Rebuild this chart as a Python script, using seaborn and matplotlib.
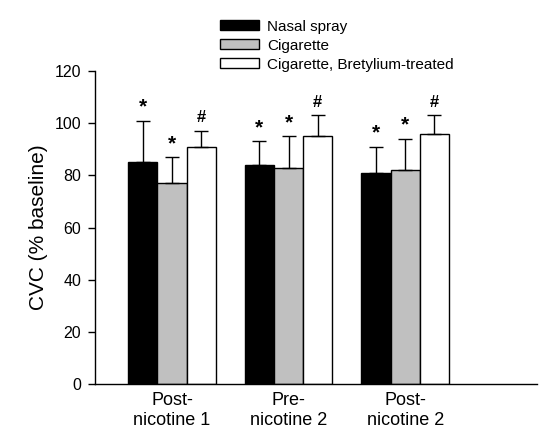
"""Bar chart of CVC (% baseline) by condition and treatment."""

import matplotlib
matplotlib.use("Agg")

import matplotlib.pyplot as plt
import pandas as pd
import seaborn as sns

periods = ["Post-\nnicotine 1", "Pre-\nnicotine 2", "Post-\nnicotine 2"]
treatments = ["Nasal spray", "Cigarette", "Cigarette, Bretylium-treated"]
nasal_spray = [85, 84, 81]
cigarette = [77, 83, 82]
bretylium = [91, 95, 96]
nasal_spray_err = [16, 9, 10]
cigarette_err = [10, 12, 12]
bretylium_err = [6, 8, 7]
marks = ["*", "*", "#"]

colors = ["black", "#c0c0c0", "white"]

rows = []
for name, values in zip(treatments, [nasal_spray, cigarette, bretylium]):
    for period, value in zip(periods, values):
        rows.append({"period": period, "treatment": name, "cvc": value})
df = pd.DataFrame(rows)
errors = [nasal_spray_err, cigarette_err, bretylium_err]

sns.set_style("ticks", {"axes.edgecolor": "black", "xtick.color": "black", "ytick.color": "black",
                        "text.color": "black", "axes.labelcolor": "black"})
plt.rcParams["font.family"] = ["Liberation Sans", "DejaVu Sans"]

fig = plt.figure(figsize=(5.39, 4.37), dpi=100)
ax = fig.add_axes([95 / 539, 53 / 437, 442 / 539, 313 / 437])

sns.barplot(data=df, x="period", y="cvc", hue="treatment", order=periods, hue_order=treatments,
            palette=colors, width=0.75, edgecolor="black", linewidth=1, errorbar=None,
            legend=True, ax=ax)

for container, errs, mark in zip(ax.containers, errors, marks):
    for patch, err in zip(container.patches, errs):
        x = patch.get_x() + patch.get_width() / 2
        top = patch.get_height()
        ax.errorbar(x, top, yerr=[[0], [err]], fmt="none", ecolor="black",
                    elinewidth=1, capsize=5, capthick=1)
        ax.annotate(mark, (x, top + err), xytext=(0, 3 if mark == "*" else 4),
                    textcoords="offset points", ha="center", va="bottom",
                    fontsize=15 if mark == "*" else 12, fontweight="bold")

ax.set_xlim(-0.66, 3.13)
ax.set_ylim(0, 120)
ax.set_yticks(range(0, 121, 20))
ax.set_ylabel("CVC (% baseline)", fontsize=15, labelpad=5)
ax.set_xlabel("")
ax.tick_params(axis="y", labelsize=11.5, direction="out", length=5, width=1, pad=5)
ax.tick_params(axis="x", labelsize=13, length=0, pad=6)
for spine in ["left", "bottom"]:
    ax.spines[spine].set_linewidth(1)
sns.despine(ax=ax)

handles, labels = ax.get_legend_handles_labels()
ax.get_legend().remove()
fig.legend(handles, labels, loc="upper left", bbox_to_anchor=(212 / 539, 1 - 12 / 437),
           frameon=False, fontsize=11, borderpad=0, handlelength=2.6, handleheight=0.65,
           handletextpad=0.5, labelspacing=0.33)

fig.savefig("out.png", dpi=100)
plt.close(fig)
